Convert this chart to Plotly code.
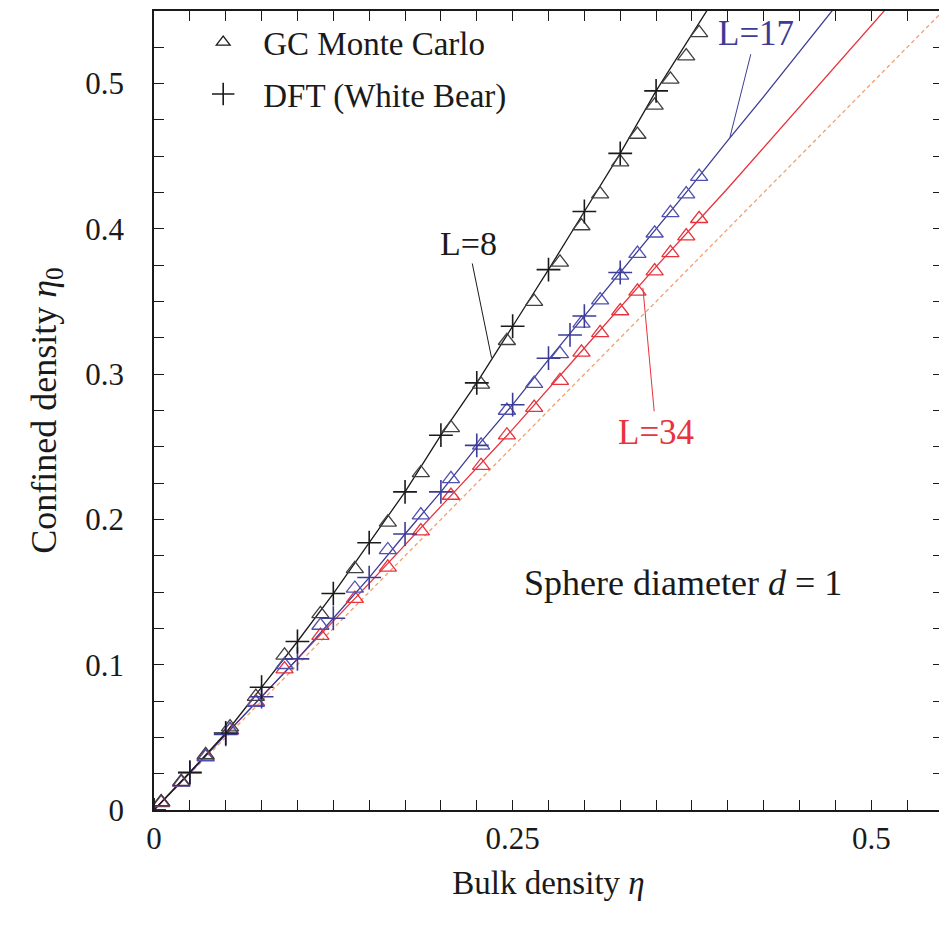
import plotly.graph_objects as go

# ---------------- data ----------------
# DFT curves (lines)
eta_l8 = [0, 0.025, 0.05, 0.075, 0.1, 0.125, 0.15, 0.175, 0.2, 0.225, 0.25, 0.275, 0.3, 0.325, 0.35, 0.375, 0.4]
eta0_l8 = [0, 0.026, 0.053, 0.0845, 0.116, 0.149, 0.184, 0.219, 0.258, 0.294, 0.333, 0.372, 0.412, 0.452, 0.495, 0.534, 0.573]

eta_l17 = [0, 0.025, 0.05, 0.075, 0.1, 0.125, 0.15, 0.175, 0.2, 0.225, 0.25, 0.275, 0.3, 0.325, 0.35, 0.375, 0.4, 0.425, 0.45, 0.475]
eta0_l17 = [0, 0.0255, 0.052, 0.078, 0.104, 0.132, 0.160, 0.190, 0.219, 0.250, 0.279, 0.310, 0.340, 0.370, 0.400, 0.430, 0.461, 0.491, 0.522, 0.553]

eta_l34 = [0, 0.05, 0.1, 0.15, 0.2, 0.25, 0.3, 0.35, 0.4, 0.45, 0.5, 0.55]
eta0_l34 = [0, 0.052, 0.104, 0.156, 0.209, 0.262, 0.318, 0.374, 0.428, 0.484, 0.540, 0.596]

eta_bulk = [0, 0.55]
eta0_bulk = [0, 0.55]

# DFT points (plus markers)
eta_dft8 = [0, 0.025, 0.05, 0.075, 0.1, 0.125, 0.15, 0.175, 0.2, 0.225, 0.25, 0.275, 0.3, 0.325, 0.35]
eta0_dft8 = [0, 0.026, 0.053, 0.0845, 0.116, 0.149, 0.184, 0.219, 0.258, 0.294, 0.333, 0.372, 0.412, 0.452, 0.495]

eta_dft17 = [0, 0.025, 0.05, 0.075, 0.1, 0.125, 0.15, 0.175, 0.2, 0.225, 0.25, 0.275, 0.29, 0.3, 0.325]
eta0_dft17 = [0, 0.0255, 0.052, 0.078, 0.104, 0.132, 0.160, 0.190, 0.219, 0.251, 0.279, 0.311, 0.327, 0.340, 0.370]

# GC Monte Carlo points (triangles), shared bulk densities
eta_mc = [0.005, 0.019, 0.036, 0.053, 0.071, 0.091, 0.116, 0.140, 0.163, 0.186, 0.207, 0.228,
          0.246, 0.265, 0.283, 0.298, 0.311, 0.325, 0.337, 0.349, 0.360, 0.371, 0.380]
eta0_mc8 = [0.0055, 0.0195, 0.038, 0.057, 0.078, 0.1065, 0.135, 0.166, 0.198, 0.232, 0.263, 0.293,
            0.323, 0.350, 0.377, 0.402, 0.424, 0.446, 0.465, 0.485, 0.503, 0.519, 0.535]
eta0_mc17 = [0.0055, 0.019, 0.0365, 0.055, 0.074, 0.100, 0.127, 0.1525, 0.179, 0.203, 0.228, 0.251,
             0.275, 0.2935, 0.314, 0.335, 0.351, 0.368, 0.383, 0.397, 0.411, 0.424, 0.436]
eta0_mc34 = [0.005, 0.019, 0.037, 0.055, 0.0745, 0.097, 0.120, 0.1455, 0.167, 0.192, 0.2165, 0.237,
             0.258, 0.277, 0.2955, 0.315, 0.3285, 0.3435, 0.357, 0.371, 0.3835, 0.395, 0.407]

legend_labels = ["GC Monte Carlo", "DFT (White Bear)"]

# ---------------- styles ----------------
BLACK = "#1a1a1a"
GREY = "#404040"
BLUE = "#3c3c96"
RED = "#e8323c"
ORANGE = "#f0a070"
SERIF = "Liberation Serif"

fig = go.Figure()

fig.add_trace(go.Scatter(x=eta_bulk, y=eta0_bulk, mode="lines",
                         line=dict(color=ORANGE, width=1.3, dash="4px,3px"), showlegend=False))
fig.add_trace(go.Scatter(x=eta_l34, y=eta0_l34, mode="lines",
                         line=dict(color=RED, width=1.3), showlegend=False))
fig.add_trace(go.Scatter(x=eta_l17, y=eta0_l17, mode="lines",
                         line=dict(color=BLUE, width=1.3), showlegend=False))
fig.add_trace(go.Scatter(x=eta_l8, y=eta0_l8, mode="lines",
                         line=dict(color=BLACK, width=1.3), showlegend=False))

tri = dict(symbol="triangle-up-open", size=15, line=dict(width=1.3))
fig.add_trace(go.Scatter(x=eta_mc, y=eta0_mc34, mode="markers",
                         marker=dict(color=RED, **tri), showlegend=False))
fig.add_trace(go.Scatter(x=eta_mc, y=eta0_mc17, mode="markers",
                         marker=dict(color="#5050b0", **tri), showlegend=False))
fig.add_trace(go.Scatter(x=eta_mc, y=eta0_mc8, mode="markers",
                         marker=dict(color=GREY, **tri), showlegend=False))

plus = dict(symbol="cross-thin-open", size=17, line=dict(width=1.6))
fig.add_trace(go.Scatter(x=eta_dft17, y=eta0_dft17, mode="markers",
                         marker=dict(color=BLUE, line_color=BLUE, **plus), showlegend=False))
fig.add_trace(go.Scatter(x=eta_dft8, y=eta0_dft8, mode="markers",
                         marker=dict(color=BLACK, line_color=BLACK, **plus), showlegend=False))

# legend entries
fig.add_trace(go.Scatter(x=[None], y=[None], mode="markers", name=legend_labels[0], legendgroup="a",
                         marker=dict(color=BLACK, symbol="triangle-up-open", size=12, line=dict(width=1.3))))
fig.add_trace(go.Scatter(x=[None], y=[None], mode="markers", name=legend_labels[1], legendgroup="b",
                         marker=dict(color=BLACK, line_color=BLACK, symbol="cross-thin-open", size=16, line=dict(width=1.6))))

fig.add_annotation(x=0.2353, y=0.3113, ax=0.219, ay=0.390, axref="x", ayref="y",
                   text="L=8", showarrow=True, arrowhead=0, arrowwidth=1, arrowcolor=BLACK,
                   font=dict(color=BLACK, family=SERIF, size=34))
fig.add_annotation(x=0.4015, y=0.4632, ax=0.4197, ay=0.5347, axref="x", ayref="y",
                   text="L=17", showarrow=True, arrowhead=0, arrowwidth=1, arrowcolor=BLUE,
                   font=dict(color=BLUE, family=SERIF, size=35))
fig.add_annotation(x=0.3408, y=0.3595, ax=0.35, ay=0.26, axref="x", ayref="y",
                   text="L=34", showarrow=True, arrowhead=0, arrowwidth=1, arrowcolor=RED,
                   font=dict(color=RED, family=SERIF, size=35))
fig.add_annotation(x=0.369, y=0.156, text="Sphere diameter <i>d</i> = 1", showarrow=False,
                   font=dict(color=BLACK, family=SERIF, size=36))

axis_common = dict(showgrid=False, zeroline=False, showline=True, linecolor=BLACK, linewidth=1.5,
                   mirror="ticks", ticks="inside", ticklen=10, tickwidth=1.2, tickcolor=BLACK,
                   tickfont=dict(family=SERIF, size=31, color=BLACK),
                   minor=dict(ticks="inside", ticklen=10, tickwidth=1.2, tickcolor=BLACK, dtick=0.025, showgrid=False))

fig.update_xaxes(range=[0, 0.55], tick0=0, dtick=0.25, ticklabelstandoff=0,
                 title=dict(text="Bulk density <i>η</i>", font=dict(family=SERIF, size=33, color=BLACK), standoff=16),
                 **axis_common)
fig.update_yaxes(range=[0, 0.55], tick0=0, dtick=0.1, ticklabelstandoff=22,
                 title=dict(text="Confined density <i>η</i><sub>0</sub>", font=dict(family=SERIF, size=36, color=BLACK), standoff=18),
                 **axis_common)

fig.update_layout(
    width=939, height=923,
    margin=dict(l=146, r=4, t=1, b=121),
    plot_bgcolor="white", paper_bgcolor="white",
    font=dict(family=SERIF, color=BLACK),
    legend=dict(x=0.037, y=0.996, xanchor="left", yanchor="top", bgcolor="rgba(0,0,0,0)",
                font=dict(family=SERIF, size=33, color=BLACK), itemwidth=70, tracegroupgap=6),
)

fig.write_html("out.html")
